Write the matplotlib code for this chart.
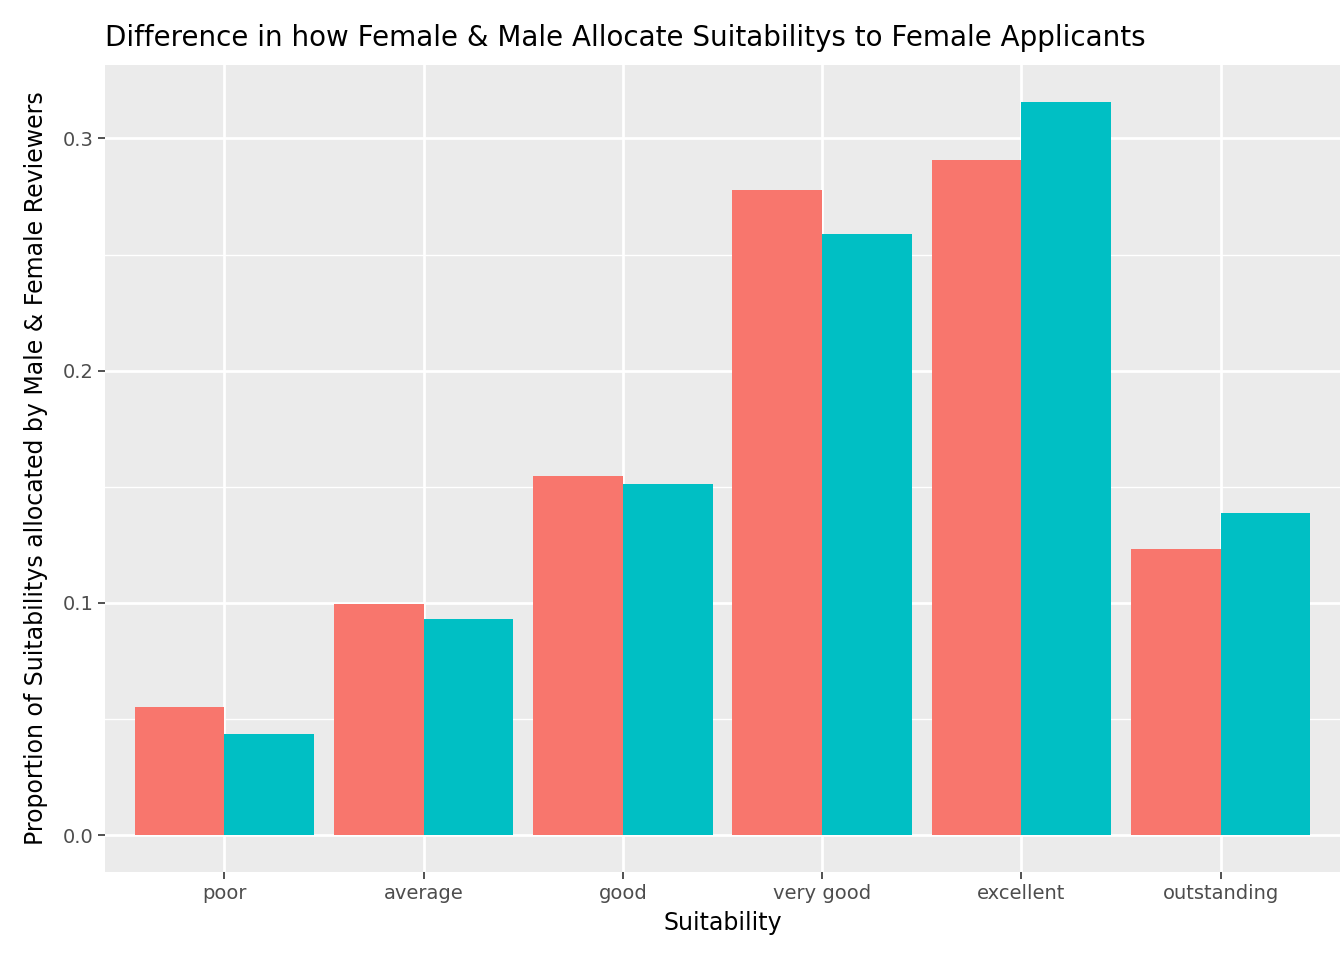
import matplotlib
matplotlib.use("Agg")
import matplotlib.pyplot as plt
import numpy as np

categories = ["poor", "average", "good", "very good", "excellent", "outstanding"]
female_rev = [0.0551, 0.0994, 0.1545, 0.2777, 0.2906, 0.1231]
male_rev = [0.0435, 0.0930, 0.1510, 0.2587, 0.3155, 0.1386]

fig = plt.figure(figsize=(13.44, 9.6), dpi=100)
ax = fig.add_axes([0.0781, 0.0917, 0.919, 0.8403])
ax.set_facecolor("#EBEBEB")

x = np.arange(len(categories))
w = 0.45
ax.bar(x - w / 2, female_rev, width=w, color="#F8766D", zorder=3)
ax.bar(x + w / 2, male_rev, width=w, color="#00BFC4", zorder=3)

ax.set_xlim(-0.6, len(categories) - 0.4)
ax.set_ylim(-0.0159, 0.3315)
ax.set_yticks([0.0, 0.1, 0.2, 0.3])
ax.set_yticklabels(["0.0", "0.1", "0.2", "0.3"])
ax.set_yticks([0.05, 0.15, 0.25], minor=True)
ax.set_xticks(x)
ax.set_xticklabels(categories)
ax.grid(which="major", color="white", linewidth=2.0, zorder=0)
ax.grid(which="minor", axis="y", color="white", linewidth=1.0, zorder=0)
ax.tick_params(which="major", colors="#333333", labelcolor="#4D4D4D",
               labelsize=14, length=5, width=1.2)
ax.tick_params(which="minor", length=0)
for s in ax.spines.values():
    s.set_visible(False)

ax.set_xlabel("Suitability", fontsize=17, labelpad=6)
ax.set_ylabel("Proportion of Suitabilitys allocated by Male & Female Reviewers",
              fontsize=17, labelpad=10)
ax.set_title("Difference in how Female & Male Allocate Suitabilitys to Female Applicants",
             fontsize=20, loc="left", pad=14)

fig.savefig("out.png", dpi=100)
